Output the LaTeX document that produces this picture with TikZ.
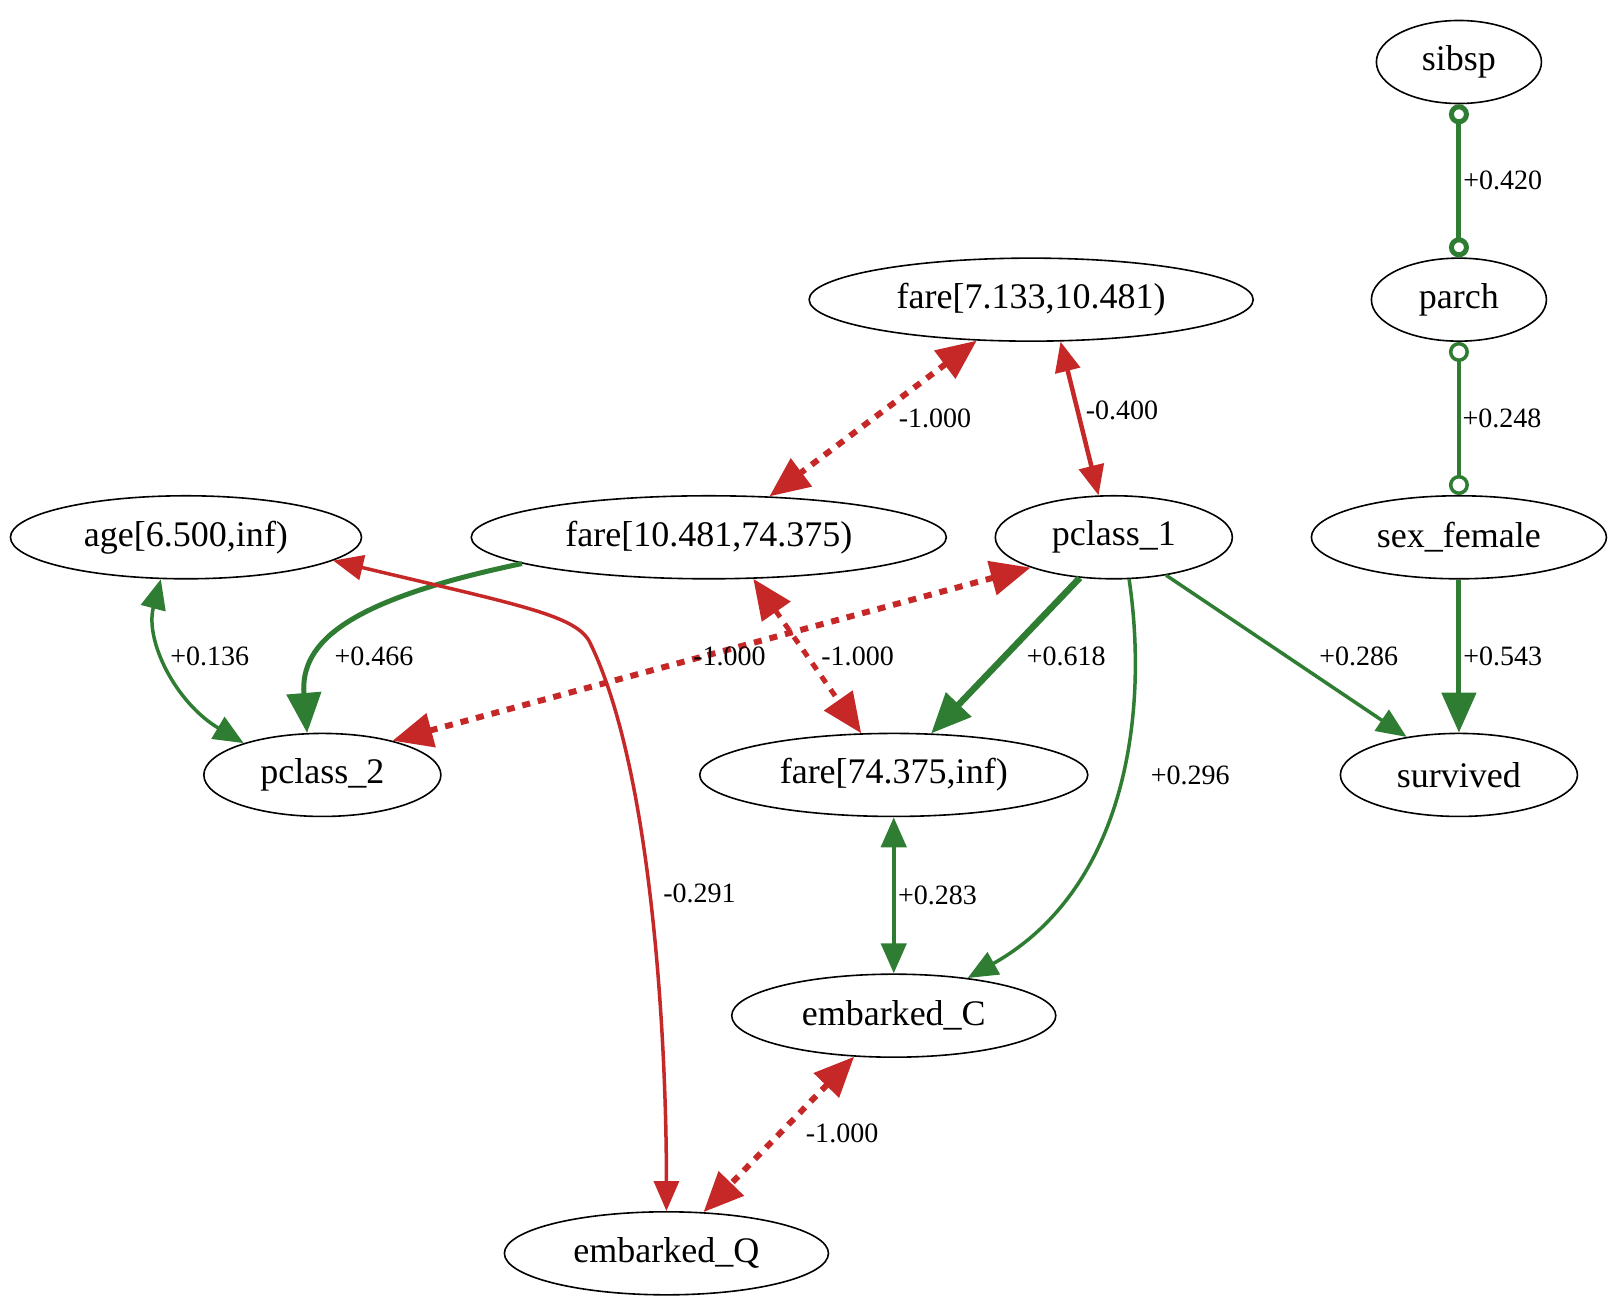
\documentclass[tikz,border=0pt]{standalone}
\usepackage{fontspec}
\setmainfont{Liberation Serif}
\usetikzlibrary{shapes.geometric,arrows.meta}
\definecolor{gr}{HTML}{2E7D32}
\definecolor{rd}{HTML}{C62828}
\begin{document}
\begin{tikzpicture}[x=1.033pt,y=-1.033pt,
  n/.style={ellipse,draw,line width=1.6pt,inner sep=0pt,minimum height=83pt,font=\fontsize{36}{38}\selectfont},
  lb/.style={font=\fontsize{28}{30}\selectfont,inner sep=2pt},
  g/.style={draw=gr,color=gr},
  r/.style={draw=rd,color=rd},
  H/.style={Triangle[length=40pt,width=34pt,line width=0pt]},
  h/.style={Triangle[length=30pt,width=25pt,line width=0pt]},
  tri/.style={-{Triangle[length=40pt,width=34pt]}},
  tri2/.style={{Triangle[length=40pt,width=34pt]}-{Triangle[length=40pt,width=34pt]}},
  tris/.style={-{Triangle[length=30pt,width=25pt]}},
  tris2/.style={{Triangle[length=30pt,width=25pt]}-{Triangle[length=30pt,width=25pt]}},
  oo/.style={{Circle[open,length=20pt,width=20pt]}-{Circle[open,length=20pt,width=20pt]}},
  dot/.style={dash pattern=on 8pt off 8pt}]
\useasboundingbox (0,0) rectangle (1565,1268);
\node[n,minimum width=165pt] (sibsp) at (1412,60) {sibsp};
\node[n,minimum width=175pt] (parch) at (1412,290) {parch};
\node[n,minimum width=295pt] (sex) at (1412,520) {sex\_female};
\node[n,minimum width=237pt] (surv) at (1412,750) {survived};
\node[n,minimum width=444pt] (f1) at (998,290) {fare[7.133,10.481)};
\node[n,minimum width=475pt] (f2) at (686,520) {fare[10.481,74.375)};
\node[n,minimum width=237pt] (p1) at (1078,520) {pclass\_1};
\node[n,minimum width=351pt] (age) at (180,520) {age[6.500,inf)};
\node[n,minimum width=237pt] (p2) at (312,750) {pclass\_2};
\node[n,minimum width=388pt] (f3) at (865,750) {fare[74.375,inf)};
\node[n,minimum width=324pt] (eC) at (865,983) {embarked\_C};
\node[n,minimum width=324pt] (eQ) at (645,1213) {embarked\_Q};

\draw[g,oo,line width=5pt] (sibsp) -- node[lb,right,black]{+0.420} (parch);
\draw[g,oo,line width=3.5pt] (parch) -- node[lb,right,black]{+0.248} (sex);
\draw[g,tri,line width=5pt] (sex) -- node[lb,right,black]{+0.543} (surv);
\draw[g,tris,line width=3.5pt] (p1.-36) -- (surv.144);
\node[lb] at (1315,635) {+0.286};
\draw[g,tri,line width=6.5pt] (p1.-130) -- (f3.48);
\node[lb] at (1032,635) {+0.618};
\draw[g,tris,line width=3.5pt] (p1.-70) .. controls (1112,690) and (1090,860) .. (eC.27);
\node[lb] at (1152,750) {+0.296};
\draw[r,tris2,line width=4.5pt] (f1.-55) -- node[lb,black,right=4pt,pos=0.45]{-0.400} (p1.110);
\draw[r,tri2,dot,line width=6pt] (f1.-143) -- (f2.34);
\node[lb] at (905,405) {-1.000};
\draw[g,tri,line width=5pt] (f2.-172) .. controls (340,580) and (290,620) .. (p2.110);
\node[lb] at (362,635) {+0.466};
\draw[g,tris2,line width=3.5pt] (age.-121) .. controls (140,620) and (170,680) .. (p2.158);
\node[lb] at (203,635) {+0.136};
\draw[r,tris2,line width=3.5pt] (age.-9) .. controls (500,585) and (555,595) .. (570,620) .. controls (630,740) and (645,1000) .. (eQ.90);
\node[lb] at (677,865) {-0.291};
\draw[r,tri2,dot,line width=6pt] (p1.-160) -- (p2.26);
\node[lb] at (706,635) {-1.000};
\draw[r,tri2,dot,line width=5pt] (f2.-43) -- (f3.128);
\node[lb] at (830,635) {-1.000};
\draw[g,tris2,line width=4.5pt] (f3) -- node[lb,black,right]{+0.283} (eC);
\draw[r,tri2,dot,line width=6pt] (eC.-134) -- (eQ.48);
\node[lb] at (815,1097) {-1.000};
\end{tikzpicture}
\end{document}
